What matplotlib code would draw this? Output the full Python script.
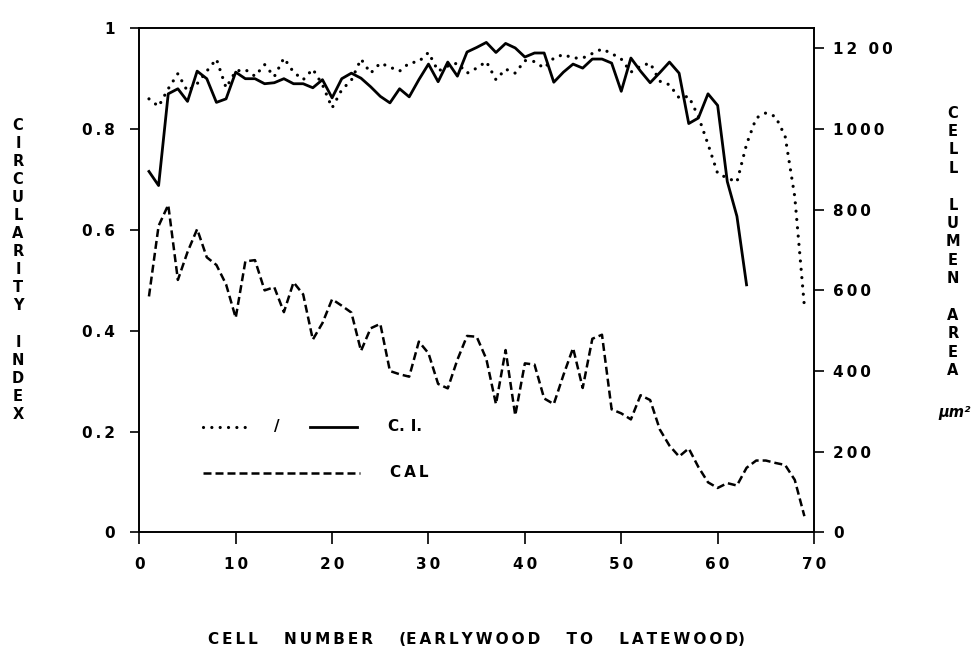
import numpy as np
import matplotlib
matplotlib.use('Agg')
import matplotlib.pyplot as plt

outfile = 'out.png'

# cell number (earlywood to latewood)
cells_ci_a = list(range(1, 70))   # dotted C.I. series
cells_ci_b = list(range(1, 64))   # solid C.I. series
cells_cal = list(range(1, 70))    # dashed CAL series

ci_dotted = [0.860, 0.845, 0.880, 0.910, 0.875, 0.890, 0.915, 0.939, 0.882, 0.915,
             0.918, 0.905, 0.928, 0.904, 0.941, 0.913, 0.898, 0.919, 0.888, 0.842,
             0.878, 0.897, 0.939, 0.911, 0.931, 0.923, 0.915, 0.931, 0.934, 0.952,
             0.915, 0.925, 0.931, 0.911, 0.921, 0.934, 0.898, 0.919, 0.911, 0.936,
             0.934, 0.921, 0.941, 0.948, 0.941, 0.941, 0.950, 0.959, 0.950, 0.939,
             0.913, 0.925, 0.931, 0.895, 0.888, 0.862, 0.865, 0.825, 0.770, 0.712,
             0.703, 0.695, 0.770, 0.822, 0.832, 0.825, 0.786, 0.666, 0.448]

ci_solid = [0.716, 0.688, 0.870, 0.880, 0.855, 0.915, 0.900, 0.853, 0.860, 0.913,
            0.900, 0.900, 0.890, 0.892, 0.900, 0.890, 0.890, 0.882, 0.898, 0.862,
            0.900, 0.911, 0.901, 0.884, 0.865, 0.852, 0.880, 0.864, 0.898, 0.929,
            0.894, 0.933, 0.905, 0.953, 0.962, 0.972, 0.952, 0.970, 0.961, 0.943,
            0.951, 0.951, 0.893, 0.913, 0.929, 0.921, 0.939, 0.939, 0.931, 0.875,
            0.941, 0.915, 0.892, 0.912, 0.933, 0.911, 0.811, 0.822, 0.870, 0.847,
            0.696, 0.627, 0.491]

# cell lumen area, um^2
cal = [585, 760, 812, 626, 695, 752, 682, 663, 615, 532,
       672, 675, 600, 608, 546, 620, 590, 478, 519, 578,
       562, 545, 450, 506, 517, 400, 392, 386, 473, 444,
       368, 357, 428, 487, 485, 430, 318, 452, 290, 419,
       416, 332, 318, 390, 457, 358, 480, 490, 305, 295,
       280, 340, 328, 255, 215, 188, 208, 162, 124, 110,
       122, 116, 160, 178, 178, 172, 167, 130, 40]

x_ticks = [0, 10, 20, 30, 40, 50, 60, 70]
ci_ticks = [0, 0.2, 0.4, 0.6, 0.8, 1.0]
ci_labels = ['0', '0.2', '0.4', '0.6', '0.8', '1']
cal_ticks = [0, 200, 400, 600, 800, 1000, 1200]
cal_labels = ['0', '200', '400', '600', '800', '1000', '12 00']

plt.rcParams['font.family'] = 'DejaVu Sans'
plt.rcParams['font.weight'] = 'bold'

SP = '\u2009'  # thin space, for the wide letter spacing of the original


def spaced(s):
    return SP.join(s)


fig = plt.figure(figsize=(9.77, 6.49), dpi=100, facecolor='w')
ax = fig.add_axes([0.1426, 0.1798, 0.6906, 0.7766])
ax2 = ax.twinx()

ax.set_xlim(0, 70)
ax.set_ylim(0, 1)
ax2.set_ylim(0, 1250)

dot_style = dict(color='k', lw=2.3, linestyle=(0, (0.01, 2.6)), dash_capstyle='round')
dash_style = dict(color='k', lw=1.8, linestyle=(0, (3.2, 1.6)))

ax.plot(cells_ci_a, ci_dotted, **dot_style)
ax.plot(cells_ci_b, ci_solid, color='k', lw=2.0)
ax2.plot(cells_cal, cal, **dash_style)

for a in (ax, ax2):
    for s in a.spines.values():
        s.set_linewidth(1.2)

ax.set_xticks(x_ticks)
ax.set_xticklabels([spaced(str(t)) for t in x_ticks])
ax.set_yticks(ci_ticks)
ax.set_yticklabels([spaced(t) for t in ci_labels])
ax2.set_yticks(cal_ticks)
ax2.set_yticklabels([spaced(t) for t in cal_labels])
ax.tick_params(axis='y', direction='out', length=6.5, width=1.2, pad=11, labelsize=11)
ax.tick_params(axis='x', direction='out', length=8.5, width=1.2, pad=9, labelsize=11)
ax2.tick_params(axis='y', direction='out', length=7, width=1.2, pad=7, labelsize=11)


# stacked axis titles
def stacked(word, x, y0, step):
    for i, ch in enumerate(word):
        fig.text(x, 1 - (y0 + i * step) / 649, ch, ha='center', va='center',
                 fontsize=10.5, fontweight='bold')


stacked('CIRCULARITY INDEX', 18 / 977, 125, 18.1)
stacked('CELL LUMEN AREA', 953 / 977, 113, 18.4)
fig.text(955 / 977, 1 - 413 / 649, '\u00b5m\u00b2', ha='center', va='center',
         fontsize=10.5, fontstyle='italic')

gap = '     '
xlabel = spaced('CELL') + gap + spaced('NUMBER') + gap + '(' + spaced('EARLYWOOD') + \
    gap + spaced('TO') + gap + spaced('LATEWOOD') + ')'
fig.text(476 / 977, 1 - 640 / 649, xlabel, ha='center', va='center', fontsize=11,
         fontweight='bold')

# legend drawn by hand
ax.plot([0.0944, 0.1596], [0.209, 0.209], transform=ax.transAxes, **dot_style)
ax.text(0.204, 0.209, '/', transform=ax.transAxes, ha='center', va='center',
        fontsize=11)
ax.plot([0.253, 0.3226], [0.209, 0.209], transform=ax.transAxes, color='k', lw=2.0)
ax.text(0.3685, 0.209, 'C.' + SP + SP + 'I.', transform=ax.transAxes, ha='left',
        va='center', fontsize=11)
ax.plot([0.0944, 0.327], [0.1177, 0.1177], transform=ax.transAxes, **dash_style)
ax.text(0.3716, 0.1177, spaced('CAL'), transform=ax.transAxes, ha='left',
        va='center', fontsize=11)

plt.savefig(outfile, dpi=100)
